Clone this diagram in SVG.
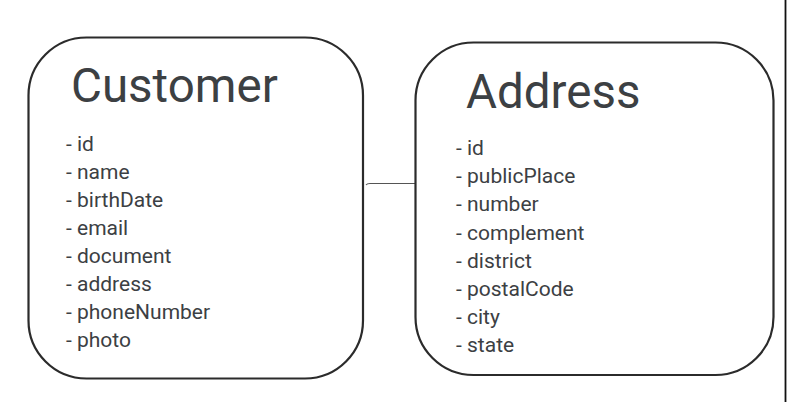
<svg xmlns="http://www.w3.org/2000/svg" width="787" height="402" viewBox="0 0 787 402">
<style>
.box{fill:#ffffff;stroke:#2b2b2b;stroke-width:2.2}
.title{font-family:Roboto,"Liberation Sans",sans-serif;font-size:47.5px;fill:#3c4043}
.item{font-family:Roboto,"Liberation Sans",sans-serif;font-size:21px;fill:#3c4043}
.conn{stroke:#555555;stroke-width:1.2;fill:none}
</style>
<rect x="0" y="0" width="787" height="402" fill="#ffffff"/>
<line x1="785.5" y1="0" x2="785.5" y2="402" stroke="#111111" stroke-width="1.8"/>
<g id="connectors">
<path class="conn" d="M366 185 Q367 183.5 370 183.5 L415 183.5"/>
</g>
<g id="customer">
<rect class="box" x="28.5" y="37.5" width="334.5" height="341" rx="58" ry="58"/>
<text class="title" x="71" y="102">Customer</text>
<text class="item" x="66" y="151">- id</text>
<text class="item" x="66" y="179">- name</text>
<text class="item" x="66" y="207">- birthDate</text>
<text class="item" x="66" y="235">- email</text>
<text class="item" x="66" y="263">- document</text>
<text class="item" x="66" y="291">- address</text>
<text class="item" x="66" y="319">- phoneNumber</text>
<text class="item" x="66" y="347">- photo</text>
</g>
<g id="address">
<rect class="box" x="415.5" y="42.5" width="358" height="332.5" rx="58" ry="58"/>
<text class="title" x="466" y="108">Address</text>
<text class="item" x="456" y="155">- id</text>
<text class="item" x="456" y="183">- publicPlace</text>
<text class="item" x="456" y="211">- number</text>
<text class="item" x="456" y="240">- complement</text>
<text class="item" x="456" y="268">- district</text>
<text class="item" x="456" y="296">- postalCode</text>
<text class="item" x="456" y="324">- city</text>
<text class="item" x="456" y="352">- state</text>
</g>
</svg>
